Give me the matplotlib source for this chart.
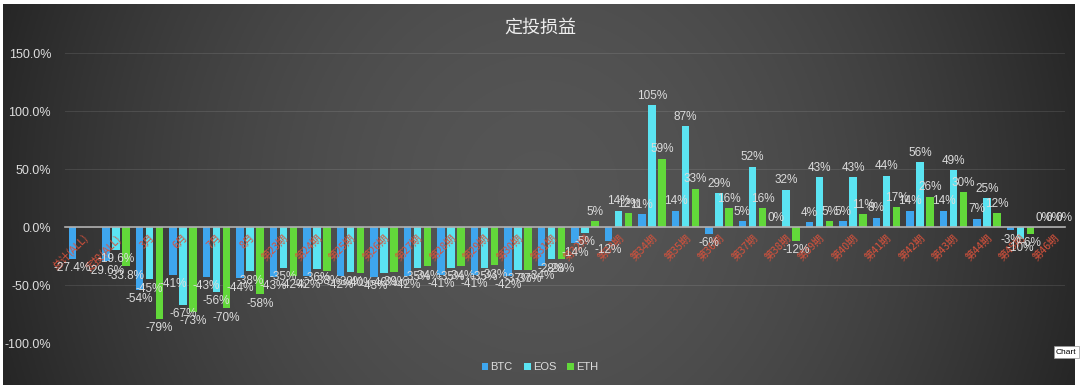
import numpy as np
import matplotlib
matplotlib.use("Agg")
import matplotlib.pyplot as plt

plt.rcParams['font.family'] = ['Liberation Sans', 'Noto Sans CJK SC', 'DejaVu Sans']

# 定投损益数据 (%)
periods = ['总计(ALL)', '定投(ALL)', '3月', '6月', '7月', '8月',
           '第23期', '第24期', '第25期', '第26期', '第27期', '第28期',
           '第29期', '第30期', '第31期', '第32期', '第33期', '第34期',
           '第35期', '第36期', '第37期', '第38期', '第39期', '第40期',
           '第41期', '第42期', '第43期', '第44期', '第45期', '第46期']
btc = [-27.4, -29.6, -54, -41, -43, -44, -43, -42, -42, -43, -42, -41,
       -41, -42, -34, -14, -12, 11, 14, -6, 5, 0, 4, 5, 8, 14, 14, 7, -3, 0]
eos = [np.nan, -19.6, -45, -67, -56, -38, -35, -36, -39, -40, -35, -35,
       -35, -37, -28, -5, 14, 105, 87, 29, 52, 32, 43, 43, 44, 56, 49, 25, -10, 0]
eth = [np.nan, -33.8, -79, -73, -70, -58, -42, -38, -40, -39, -34, -34,
       -33, -37, -28, 5, 12, 59, 33, 16, 16, -12, 5, 11, 17, 26, 30, 12, -6, 0]

series = [('BTC', btc, '#3ea6ee'), ('EOS', eos, '#5be4f2'), ('ETH', eth, '#62d83a')]

fig = plt.figure(figsize=(10.8, 3.91), dpi=100, facecolor='white')

# dark gradient panel, lighter in the middle
bg = fig.add_axes([3 / 1080, 6 / 391, 1072 / 1080, 381 / 391])
yy, xx = np.mgrid[-1:1:200j, -1:1:400j]
r = np.sqrt(xx ** 2 + (yy / 3.0) ** 2)
shade = 0.335 - 0.17 * np.clip(r, 0, 1.2) ** 1.8
img = np.dstack([shade, shade, shade])
bg.imshow(img, aspect='auto', extent=[0, 1, 0, 1])
bg.set_axis_off()

ax = fig.add_axes([65 / 1080, 48 / 391, 1000 / 1080, 290 / 391])
ax.set_facecolor('none')

x = np.arange(len(periods))
w = 0.22
offs = [-0.3, 0, 0.3]
for (name, vals, col), off in zip(series, offs):
    vals = np.array(vals, dtype=float)
    ax.bar(x + off, vals, width=w, color=col, label=name, zorder=2)
    for xi, v in zip(x + off, vals):
        if np.isnan(v):
            continue
        txt = f'{v:.1f}%' if v != round(v) else f'{v:.0f}%'
        if v >= 0:
            ax.text(xi, v + 3, txt, ha='center', va='bottom', color='#dcdcdc',
                    fontsize=8.5, zorder=5)
        else:
            ax.text(xi, v - 3, txt, ha='center', va='top', color='#dcdcdc',
                    fontsize=8.5, zorder=5)

ax.set_ylim(-100, 150)
ax.set_xlim(-0.52, 29.33)
ax.set_yticks([-100, -50, 0, 50, 100, 150])
ax.set_yticklabels([f'{t:.1f}%' for t in [-100, -50, 0, 50, 100, 150]])
ax.yaxis.grid(True, color='#ffffff', alpha=0.1, lw=0.8)
ax.set_axisbelow(False)
ax.yaxis.set_zorder(0.5)
ax.tick_params(axis='y', length=0, pad=10, colors='#dddddd', labelsize=9)

ax.spines['bottom'].set_position(('data', 0))
ax.spines['bottom'].set_color('#b0b0b0')
ax.spines['bottom'].set_linewidth(1.2)
ax.spines['bottom'].set_zorder(4)
for s in ['top', 'left', 'right']:
    ax.spines[s].set_visible(False)
ax.set_xticks(x)
ax.set_xticklabels(periods, rotation=45, ha='right', rotation_mode='anchor',
                   family=['Noto Sans CJK SC', 'DejaVu Sans'])
ax.tick_params(axis='x', length=0, pad=4, colors='#d9523c', labelsize=7.5)
ax.xaxis.set_zorder(3.5)

fig.text(0.5, 0.928, '定投损益', ha='center', va='center', color='#eeeeee',
         fontsize=13, family=['Noto Sans CJK SC', 'DejaVu Sans'])

leg = fig.legend(loc='center', bbox_to_anchor=(0.5, 24 / 391), ncol=3, frameon=False,
                 fontsize=8, handlelength=0.6, handleheight=0.6, handletextpad=0.2,
                 columnspacing=1.0)
for t in leg.get_texts():
    t.set_color('#dddddd')

fig.text(1056 / 1080, 1 - 352 / 391, 'Chart', fontsize=6, color='black', va='center',
         bbox=dict(boxstyle='square,pad=0.3', fc='white', ec='#999999', lw=0.5))

fig.savefig('out.png', dpi=100, facecolor='white')
